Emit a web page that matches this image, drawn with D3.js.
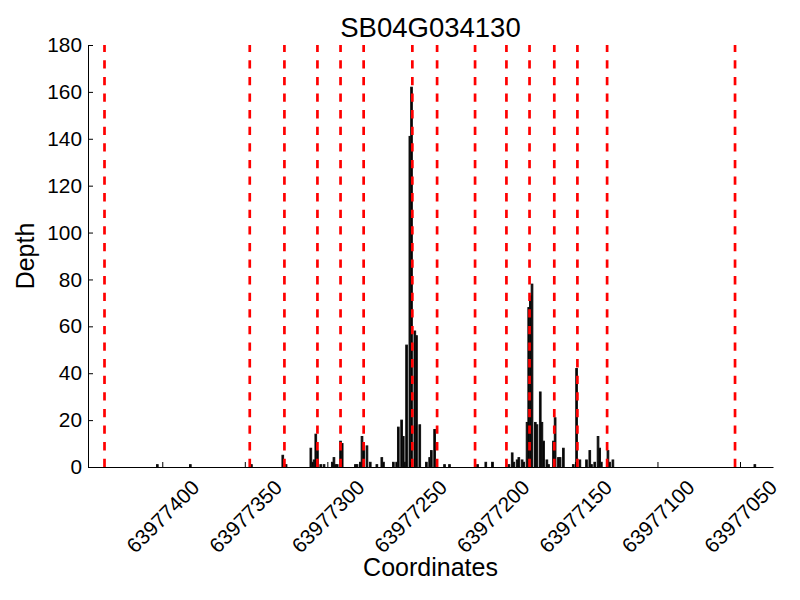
<!DOCTYPE html>
<html>
<head>
<meta charset="utf-8">
<script src="https://cdn.jsdelivr.net/npm/d3@7"></script>
<style>
  body { margin: 0; background: #fff; }
  svg { display: block; font-family: "Liberation Sans", Arial, sans-serif; }
</style>
</head>
<body>
<script>
// position on the chromosome and read depth
var coords = [
  63977403, 63977383, 63977346, 63977327, 63977325, 63977310, 63977309, 63977308,
  63977307, 63977306, 63977304, 63977302, 63977297, 63977296, 63977295, 63977294,
  63977292, 63977291, 63977283, 63977282, 63977280, 63977279, 63977278, 63977276,
  63977274, 63977270, 63977267, 63977266, 63977260, 63977258, 63977257, 63977255,
  63977254, 63977253, 63977252, 63977250, 63977249, 63977247, 63977246, 63977244,
  63977240, 63977238, 63977237, 63977235, 63977229, 63977226, 63977209, 63977204,
  63977200, 63977190, 63977188, 63977187, 63977185, 63977184, 63977182, 63977181,
  63977179, 63977178, 63977177, 63977176, 63977174, 63977173, 63977171, 63977170,
  63977169, 63977167, 63977166, 63977163, 63977162, 63977160, 63977159, 63977157,
  63977151, 63977149, 63977147, 63977143, 63977141, 63977140, 63977138, 63977136,
  63977135, 63977134, 63977130, 63977129, 63977127, 63977041
];
var depths = [
  1, 1, 1, 5, 1, 8, 2, 3,
  14, 7, 1, 1, 2, 4, 1, 1,
  11, 10, 1, 1, 2, 13, 10, 9,
  2, 1, 4, 2, 2, 2, 17, 20,
  13, 2, 52, 141, 162, 58, 56, 18,
  2, 4, 7, 16, 1, 1, 1, 2,
  2, 1, 6, 2, 3, 4, 3, 2,
  19, 68, 73, 78, 19, 18, 32, 19,
  11, 3, 1, 11, 21, 4, 4, 8,
  1, 42, 3, 3, 7, 1, 2, 13,
  8, 2, 7, 2, 3, 1
];
// exon boundaries (red dashed lines)
var boundaries = [
  63977435, 63977347, 63977326, 63977306, 63977292, 63977278, 63977248.5,
  63977233.5, 63977210.5, 63977191.5, 63977177.5, 63977162.5, 63977148.5,
  63977130.5, 63977053
];
var xTicks = [63977400, 63977350, 63977300, 63977250, 63977200, 63977150, 63977100, 63977050];
var yTicks = [0, 20, 40, 60, 80, 100, 120, 140, 160, 180];

var width = 800, height = 600;
var margin = { top: 45, right: 27, bottom: 133, left: 88 };

var svg = d3.select("body").append("svg")
  .attr("width", width)
  .attr("height", height);

var x = d3.scaleLinear()
  .domain([63977445, 63977030])
  .range([margin.left, width - margin.right]);

var y = d3.scaleLinear()
  .domain([0, 180])
  .range([height - margin.bottom, margin.top]);

var bars = coords.map(function (c, i) {
  return { coord: c, depth: depths[i] };
});

var barW = Math.abs(x(0) - x(1));

svg.append("g")
  .selectAll("rect")
  .data(bars)
  .enter()
  .append("rect")
  .attr("x", function (d) { return x(d.coord) - barW / 2; })
  .attr("y", function (d) { return y(d.depth); })
  .attr("width", barW)
  .attr("height", function (d) { return y(0) - y(d.depth); })
  .attr("fill", "#000")
  .attr("stroke", "#111")
  .attr("stroke-width", 1);

// dashes start from the bottom like matplotlib's axvline
svg.append("g")
  .selectAll("line")
  .data(boundaries)
  .enter()
  .append("line")
  .attr("x1", function (d) { return x(d); })
  .attr("x2", function (d) { return x(d); })
  .attr("y1", y(0))
  .attr("y2", y(180))
  .attr("stroke", "#ff0000")
  .attr("stroke-width", 2.7)
  .attr("stroke-dasharray", "8.3,8.3");

var xAxis = svg.append("g")
  .attr("transform", "translate(0," + y(0) + ")")
  .call(d3.axisBottom(x).tickValues(xTicks).tickSize(-5).tickSizeOuter(0)
    .tickFormat(d3.format("d")));

xAxis.selectAll("text")
  .attr("fill", "#000")
  .style("font-size", "20.8px")
  .attr("y", 0)
  .attr("dy", null)
  .attr("text-anchor", "middle")
  .attr("dominant-baseline", "central")
  .attr("transform", function () {
    var w = this.getComputedTextLength();
    var h = 24;
    var off = 8 + (w + h) * 0.7071 / 2;
    return "translate(0," + off + ") rotate(-45)";
  });

var yAxis = svg.append("g")
  .attr("transform", "translate(" + margin.left + ",0)")
  .call(d3.axisLeft(y).tickValues(yTicks).tickSize(-5).tickSizeOuter(0).tickPadding(6));

yAxis.selectAll("text")
  .attr("fill", "#000")
  .style("font-size", "20.8px");

svg.selectAll(".domain, .tick line")
  .attr("stroke", "#000")
  .attr("stroke-width", 1);

svg.append("text")
  .attr("x", (x.range()[0] + x.range()[1]) / 2)
  .attr("y", 37)
  .attr("text-anchor", "middle")
  .style("font-size", "27.5px")
  .text("SB04G034130");

svg.append("text")
  .attr("x", (x.range()[0] + x.range()[1]) / 2)
  .attr("y", 576)
  .attr("text-anchor", "middle")
  .style("font-size", "25px")
  .text("Coordinates");

svg.append("text")
  .attr("transform", "translate(34,256) rotate(-90)")
  .attr("text-anchor", "middle")
  .style("font-size", "25px")
  .text("Depth");
</script>
</body>
</html>
